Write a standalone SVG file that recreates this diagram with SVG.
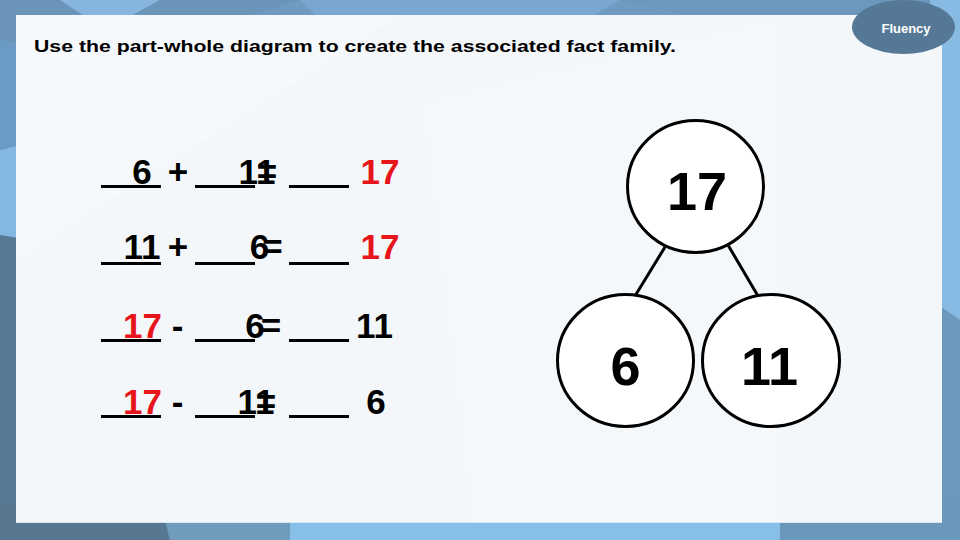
<svg xmlns="http://www.w3.org/2000/svg" width="960" height="540" viewBox="0 0 960 540">
  <style>
    .eq { font-family: "Liberation Sans", Arial, sans-serif; font-weight: bold; font-size: 35px; fill: #000; text-anchor: middle; }
    .red { fill: #e8141c; }
    .blank { stroke: #000; stroke-width: 3; }
    .node { fill: #fff; stroke: #000; stroke-width: 3; }
    .num { font-family: "Liberation Sans", Arial, sans-serif; font-weight: bold; font-size: 54px; fill: #000; text-anchor: middle; }
    .conn { stroke: #000; stroke-width: 3; fill: none; }
  </style>
  <!-- faceted background -->
  <g id="background">
    <rect x="0" y="0" width="960" height="540" fill="#6e9bbf"/>
    <polygon points="0,0 300,0 105,60 0,40" fill="#6a95b8"/>
    <polygon points="60,0 160,0 105,30" fill="#86b6de"/>
    <polygon points="300,0 620,0 520,60 340,40" fill="#7aa7cf"/>
    <polygon points="620,0 960,0 960,60 800,40" fill="#6c98bd"/>
    <polygon points="0,150 40,140 30,240 0,235" fill="#84b7e2"/>
    <polygon points="0,235 30,240 60,540 0,540" fill="#587993"/>
    <polygon points="0,40 105,60 40,140 0,150" fill="#6b9bc4"/>
    <polygon points="930,0 960,0 960,320 930,300" fill="#87bbe3"/>
    <polygon points="930,300 960,320 960,540 930,540" fill="#6c98bb"/>
    <polygon points="0,500 160,500 170,540 0,540" fill="#587891"/>
    <polygon points="160,500 290,500 290,540 170,540" fill="#6f9cbd"/>
    <polygon points="290,500 780,500 780,540 290,540" fill="#88bfe8"/>
    <polygon points="780,500 960,500 960,540 780,540" fill="#6a98bc"/>
  </g>
  <!-- panel -->
  <g id="panel">
    <rect x="16" y="15" width="926" height="508" fill="#f4f7fa"/>
    <polygon points="16,15 400,15 16,260" fill="#f6f9fb"/>
    <polygon points="420,100 780,15 780,523 470,523" fill="#f5f8fa"/>
    <line x1="16" y1="522.5" x2="942" y2="522.5" stroke="#d4e6f4" stroke-width="1"/>
  </g>
  <g id="fluency-badge">
    <ellipse cx="903.5" cy="27" rx="51.5" ry="27" fill="#567897"/>
    <text x="906" y="33" font-family="'Liberation Sans', Arial, sans-serif" font-weight="bold" font-size="13" fill="#ffffff" text-anchor="middle">Fluency</text>
  </g>
  <g id="title">
    <text x="34" y="52" font-family="'Liberation Sans', Arial, sans-serif" font-weight="bold" font-size="17" fill="#000" textLength="642" lengthAdjust="spacingAndGlyphs">Use the part-whole diagram to create the associated fact family.</text>
  </g>
  <!-- fact family -->
  <g id="fact-1">
    <line class="blank" x1="101" y1="186.5" x2="161" y2="186.5"/>
    <line class="blank" x1="195" y1="186.5" x2="255" y2="186.5"/>
    <line class="blank" x1="289" y1="186.5" x2="349" y2="186.5"/>
    <text class="eq" x="142" y="184">6</text>
    <text class="eq" x="178" y="184">+</text>
    <text class="eq" x="257" y="184">11</text>
    <text class="eq" x="267" y="184">=</text>
    <text class="eq red" x="380" y="184">17</text>
  </g>
  <g id="fact-2">
    <line class="blank" x1="101" y1="263.5" x2="161" y2="263.5"/>
    <line class="blank" x1="195" y1="263.5" x2="255" y2="263.5"/>
    <line class="blank" x1="289" y1="263.5" x2="349" y2="263.5"/>
    <text class="eq" x="142" y="259">11</text>
    <text class="eq" x="178" y="259">+</text>
    <text class="eq" x="259.5" y="259">6</text>
    <text class="eq" x="272.5" y="259">=</text>
    <text class="eq red" x="380" y="259">17</text>
  </g>
  <g id="fact-3">
    <line class="blank" x1="101" y1="340.5" x2="161" y2="340.5"/>
    <line class="blank" x1="195" y1="340.5" x2="255" y2="340.5"/>
    <line class="blank" x1="289" y1="340.5" x2="349" y2="340.5"/>
    <text class="eq red" x="142.5" y="338">17</text>
    <text class="eq" x="177.5" y="338">-</text>
    <text class="eq" x="255" y="338">6</text>
    <text class="eq" x="271" y="338">=</text>
    <text class="eq" x="374.5" y="338">11</text>
  </g>
  <g id="fact-4">
    <line class="blank" x1="101" y1="416.5" x2="161" y2="416.5"/>
    <line class="blank" x1="195" y1="416.5" x2="255" y2="416.5"/>
    <line class="blank" x1="289" y1="416.5" x2="349" y2="416.5"/>
    <text class="eq red" x="142.5" y="414">17</text>
    <text class="eq" x="177.5" y="414">-</text>
    <text class="eq" x="256" y="414">11</text>
    <text class="eq" x="266" y="414">=</text>
    <text class="eq" x="376" y="414">6</text>
  </g>
  <!-- part-whole diagram -->
  <g id="connectors">
    <line class="conn" x1="665" y1="247" x2="635" y2="296"/>
    <line class="conn" x1="728" y1="245" x2="758" y2="296"/>
  </g>
  <g id="node-whole">
    <ellipse class="node" cx="695.5" cy="186.5" rx="68" ry="66"/>
    <text class="num" x="697" y="210">17</text>
  </g>
  <g id="node-part-6">
    <ellipse class="node" cx="625.5" cy="360.5" rx="68" ry="66"/>
    <text class="num" x="625.5" y="385">6</text>
  </g>
  <g id="node-part-11">
    <ellipse class="node" cx="771" cy="360.5" rx="68.5" ry="66"/>
    <text class="num" x="769.5" y="385">11</text>
  </g>
</svg>
